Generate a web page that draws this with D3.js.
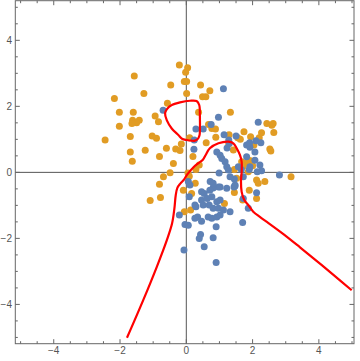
<!DOCTYPE html>
<html><head><meta charset="utf-8">
<script src="https://cdn.jsdelivr.net/npm/d3@7"></script>
<style>body{margin:0;background:#fff}svg{display:block}</style>
</head><body>
<svg id="chart" width="360" height="361"></svg>
<script>
const orangePts = [[-2.45,0.98],[-2.17,2.24],[-2.02,1.82],[-2.02,1.40],[-1.57,2.92],[-1.60,1.82],[-1.62,1.58],[-1.42,1.58],[-1.50,1.50],[-1.64,1.48],[-1.28,2.39],[-1.69,1.09],[-1.69,0.62],[-1.63,0.34],[-1.24,0.67],[-1.09,-0.85],[-0.94,1.71],[-0.84,1.53],[-1.03,1.10],[-0.90,1.03],[-0.81,0.48],[-0.81,-0.36],[-0.78,-0.76],[-0.69,-0.13],[-0.60,0.73],[-0.57,2.09],[-0.47,2.65],[-0.49,-0.01],[-0.39,0.27],[-0.32,0.71],[-0.19,0.66],[-0.15,0.86],[-0.21,3.25],[0.04,3.17],[-0.02,3.03],[-0.06,2.75],[0.01,2.75],[0.01,2.39],[0.43,2.65],[0.71,2.47],[0.49,2.29],[0.59,2.29],[-0.09,-0.54],[-0.06,-1.19],[0.13,-1.14],[0.16,-0.64],[0.05,-0.02],[0.09,-0.12],[0.10,1.05],[0.20,0.48],[0.27,-0.33],[0.29,0.09],[0.39,0.22],[0.37,1.82],[0.60,0.90],[0.67,1.45],[0.77,1.33],[0.88,1.31],[0.89,1.06],[1.15,-0.94],[1.29,1.14],[1.28,0.86],[1.33,1.82],[1.42,0.68],[1.45,0.09],[1.45,-0.61],[1.55,1.05],[1.63,1.00],[1.67,0.32],[1.77,0.27],[1.72,0.19],[1.70,-0.84],[1.74,1.23],[1.87,0.37],[1.90,-0.54],[1.94,1.08],[1.94,0.35],[2.04,0.83],[2.12,-0.23],[2.17,-0.33],[2.37,-0.28],[2.12,-0.79],[2.20,1.05],[2.27,1.20],[2.43,1.48],[2.58,1.43],[2.62,1.48],[2.64,1.21],[2.52,0.71],[2.55,0.65],[3.16,-0.13],[1.87,0.02],[1.52,-0.18],[2.00,0.20]];
const bluePts = [[-0.70,1.88],[1.12,2.53],[0.97,1.67],[2.17,1.52],[0.29,1.31],[0.51,1.31],[0.24,0.98],[0.23,0.70],[0.75,1.45],[1.14,1.14],[1.50,1.10],[1.28,0.98],[1.23,0.74],[0.92,0.62],[1.02,0.52],[1.07,0.42],[1.17,0.32],[1.22,0.17],[1.27,0.07],[0.99,-0.02],[1.82,0.83],[1.92,0.76],[2.10,0.96],[2.25,0.90],[1.91,0.90],[2.07,0.62],[2.07,0.37],[2.22,0.22],[2.14,0.02],[2.27,0.05],[1.90,0.09],[1.66,0.09],[1.72,-0.13],[1.45,-0.20],[1.47,-0.41],[1.44,-0.44],[2.12,-0.62],[2.81,-0.08],[1.72,-0.79],[1.87,-1.09],[1.70,-1.52],[1.32,-1.19],[0.06,-0.28],[0.11,-0.38],[0.09,-0.74],[-0.21,-1.29],[-0.04,-1.58],[0.06,-1.60],[-0.07,-2.35],[0.90,-2.73],[0.54,-2.25],[0.39,-2.00],[0.43,-1.88],[0.81,-1.98],[0.90,-1.65],[0.54,-0.64],[0.81,-0.47],[0.97,-0.44],[0.72,-0.28],[0.81,-0.33],[1.02,-0.44],[0.71,-0.54],[0.46,-0.84],[0.63,-0.79],[0.77,-0.74],[0.92,-0.89],[1.02,-0.84],[0.51,-0.99],[0.69,-0.99],[0.81,-1.09],[0.97,-1.09],[1.12,-1.14],[0.29,-1.04],[0.34,-1.35],[0.26,-1.39],[0.46,-1.48],[0.66,-1.35],[0.77,-1.39],[0.92,-1.35],[1.02,-1.29],[1.32,-0.13],[1.47,-0.38],[0.46,-0.59],[0.26,-0.99],[1.82,0.47],[1.92,0.17],[1.57,0.17],[1.22,-0.48],[1.30,0.88]];
const boundaryX = [-1.79,-1.30,-0.89,-0.59,-0.43,-0.36,-0.32,-0.27,-0.18,-0.07,0.03,0.21,0.38,0.50,0.58,0.71,0.97,1.27,1.42,1.52,1.62,1.67,1.67,1.65,1.67,1.75,1.87,2.02,2.22,2.43,2.93,3.43,3.93,4.43,4.99];
const boundaryY = [-5.01,-3.87,-2.86,-2.06,-1.55,-1.10,-0.70,-0.47,-0.34,-0.22,-0.06,0.15,0.29,0.38,0.52,0.73,0.88,0.93,0.88,0.73,0.52,0.32,0.02,-0.28,-0.59,-0.84,-0.99,-1.19,-1.35,-1.50,-1.87,-2.27,-2.68,-3.10,-3.57];
const loopX = [-0.59,-0.44,-0.19,0.11,0.31,0.39,0.41,0.41,0.40,0.36,0.26,0.16,0.01,-0.13,-0.24,-0.44,-0.59,-0.64];
const loopY = [1.91,2.04,2.12,2.17,2.16,2.04,1.68,1.28,1.13,1.03,0.96,0.96,0.98,1.02,1.13,1.33,1.58,1.79];
const tickValues = [-4,-2,0,2,4];
const tickLabels = ["\u22124","\u22122","0","2","4"];

const svg = d3.select("#chart");
const x = d3.scaleLinear().domain([-5.16,5.06]).range([15.3,354]);
const y = d3.scaleLinear().domain([-5.19,5.2]).range([343.7,0.7]);
const frameCol = "#666";
const minor = d3.range(-5,5.01,0.5).filter(v => Math.abs(v%2) > 1e-6);

svg.append("line").attr("x1",x(-5.16)).attr("x2",x(5.06)).attr("y1",y(0)).attr("y2",y(0)).attr("stroke","#555").attr("stroke-width",1);
svg.append("line").attr("x1",x(0)).attr("x2",x(0)).attr("y1",y(-5.19)).attr("y2",y(5.2)).attr("stroke","#555").attr("stroke-width",1);

const pg = svg.append("g");
pg.selectAll(".o").data(orangePts).join("circle").attr("cx",d=>x(d[0])).attr("cy",d=>y(d[1])).attr("r",3.5).attr("fill","#E19C24");
pg.selectAll(".b").data(bluePts).join("circle").attr("cx",d=>x(d[0])).attr("cy",d=>y(d[1])).attr("r",3.5).attr("fill","#5E81B5");

const line = d3.line().x(d=>x(d[0])).y(d=>y(d[1])).curve(d3.curveCatmullRom.alpha(0.5));
const bData = boundaryX.map((v,i)=>[v,boundaryY[i]]);
svg.append("path").attr("d",line(bData)).attr("fill","none").attr("stroke","#ff0000").attr("stroke-width",2.2).attr("stroke-linejoin","round");
const lData = loopX.map((v,i)=>[v,loopY[i]]);
const lineC = d3.line().x(d=>x(d[0])).y(d=>y(d[1])).curve(d3.curveCatmullRomClosed.alpha(0.5));
svg.append("path").attr("d",lineC(lData)).attr("fill","none").attr("stroke","#ff0000").attr("stroke-width",2.2);

svg.append("rect").attr("x",x(-5.16)).attr("y",y(5.2)).attr("width",x(5.06)-x(-5.16)).attr("height",y(-5.19)-y(5.2)).attr("fill","none").attr("stroke",frameCol).attr("stroke-width",1);

function ticks(vals, len){
  const g = svg.append("g").attr("stroke",frameCol).attr("stroke-width",1);
  vals.forEach(v=>{
    g.append("line").attr("x1",x(v)).attr("x2",x(v)).attr("y1",y(-5.19)).attr("y2",y(-5.19)-len);
    g.append("line").attr("x1",x(v)).attr("x2",x(v)).attr("y1",y(5.2)).attr("y2",y(5.2)+len);
    g.append("line").attr("y1",y(v)).attr("y2",y(v)).attr("x1",x(-5.16)).attr("x2",x(-5.16)+len);
    g.append("line").attr("y1",y(v)).attr("y2",y(v)).attr("x1",x(5.06)).attr("x2",x(5.06)-len);
  });
}
ticks(tickValues,4.5);
ticks(minor,2.5);

const lab = svg.append("g").attr("font-family","Liberation Sans, Arial, sans-serif").attr("font-size",10).attr("fill","#555");
tickValues.forEach((v,i)=>{
  lab.append("text").attr("x",x(v)).attr("y",354).attr("text-anchor","middle").text(tickLabels[i]);
  lab.append("text").attr("x",12).attr("y",y(v)+3.5).attr("text-anchor","end").text(tickLabels[i]);
});
</script>
</body></html>
